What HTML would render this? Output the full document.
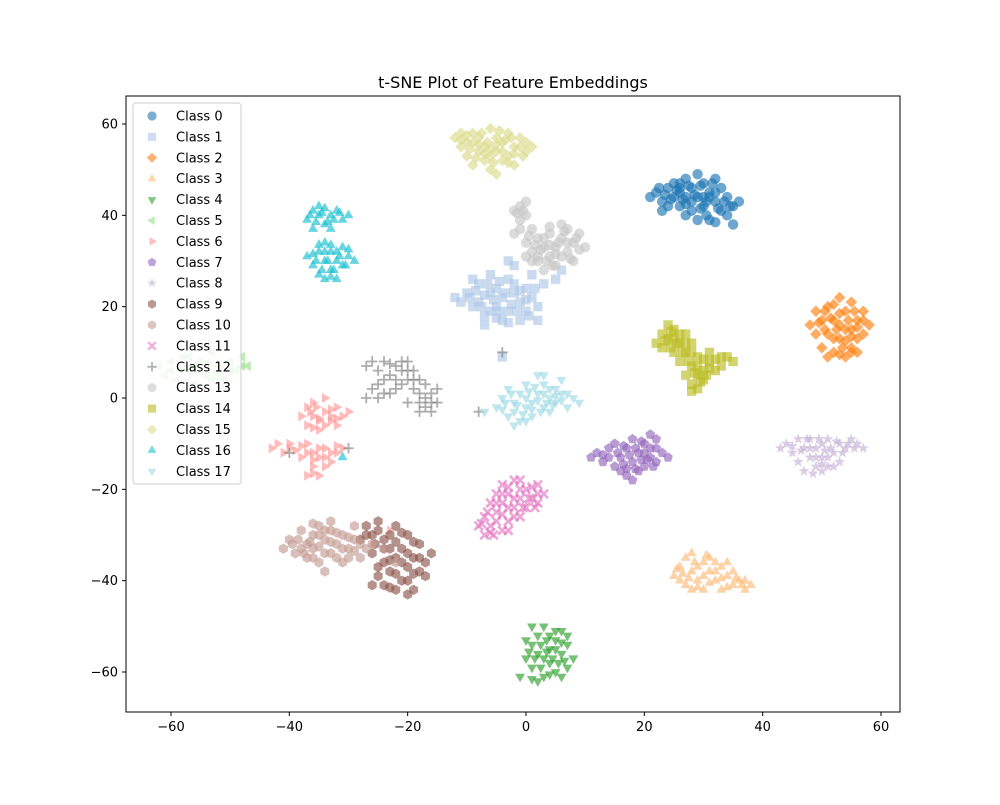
<!DOCTYPE html>
<html><head><meta charset="utf-8">
<style>
body{margin:0;background:#fff;font-family:"Liberation Sans","DejaVu Sans",sans-serif;}
svg text{font-family:"DejaVu Sans","Liberation Sans",sans-serif;}
</style></head>
<body>
<svg id="chart" width="1000" height="800" xmlns="http://www.w3.org/2000/svg">
<rect width="1000" height="800" fill="#fff"/>
<text x="513" y="88" font-size="16" text-anchor="middle">t-SNE Plot of Feature Embeddings</text>
<g id="points"></g>
<rect x="126" y="96" width="774" height="616" fill="none" stroke="#000" stroke-width="1"/>
<g id="axes"></g>
<g id="legend"></g>
</svg>
<script>
const classNames=["Class 0","Class 1","Class 2","Class 3","Class 4","Class 5","Class 6","Class 7","Class 8","Class 9","Class 10","Class 11","Class 12","Class 13","Class 14","Class 15","Class 16","Class 17"];
const xTicks=[-60,-40,-20,0,20,40,60];
const yTicks=[-60,-40,-20,0,20,40,60];
const c0=[[21,44],[22,45],[23,43],[24,46],[24,42],[25,44],[25,47],[26,45],[26,42],[27,48],[27,44],[28,46],[28,41],[29,49],[29,44],[30,47],[30,42],[31,45],[31,39],[32,48],[32,43],[33,46],[33,41],[34,44],[34,40],[35,42],[35,38],[36,43],[29,39],[27,40],[23,41],[30,44],[26,47],[32,45],[28,43],[22.5,46],[23.5,44.5],[24.5,43.5],[25.5,45.5],[26.5,43.5],[27.5,46.5],[28.5,44.5],[29.5,46.5],[30.5,43],[31.5,47],[32.5,41.5],[33.5,43],[34.5,42],[29.5,41.5],[30.5,40],[32,38.5],[26,46],[27,42.5],[31,44]];
const c1=[[-12,22],[-10,23],[-9,20],[-8,25],[-8,21],[-7,18],[-6,23],[-6,27],[-5,20],[-5,24],[-4,17],[-4,22],[-3,26],[-3,19],[-2,23],[-2,29],[-1,21],[-1,17],[0,24],[0,19],[1,22],[2,20],[3,25],[5,26],[6,28],[-4,9],[-7,16],[-9,26],[-11,21],[2,17],[-3,30],[-6,19],[1,27],[-9.5,22],[-8.5,23.5],[-7.5,20],[-7,22.5],[-6.5,25],[-5.5,21.5],[-4.5,19],[-4.5,25.5],[-3.5,23],[-2.5,20.5],[-2,25],[-1.5,19],[-1,23.5],[0,21.5],[0.5,18],[1.5,24],[-5,17.5],[-3,16.5]];
const c2=[[48,16],[49,14],[49,19],[50,17],[50,11],[51,20],[51,14],[52,10],[52,17],[53,22],[53,13],[54,19],[54,9],[54,15],[55,21],[55,11],[56,17],[56,13],[57,19],[57,14],[58,16],[51,9],[53,16],[55,15],[52,13],[56,10],[49.5,16.5],[50.5,15],[50.5,19],[51.5,17.5],[52,20.5],[52.5,15],[53,18.5],[53.5,11],[54,12.5],[54.5,17],[55,13.5],[55.5,19],[56,15.5],[57,17],[53,9.5],[55,10]];
const c3=[[25,-39],[26,-37],[27,-41],[27,-35],[28,-38],[28,-34],[29,-40],[30,-36],[30,-42],[31,-38],[31,-35],[32,-40],[33,-37],[33,-42],[34,-39],[35,-41],[35,-38],[36,-40],[37,-42],[38,-41],[29,-37],[26,-40],[32,-36],[34,-36],[25.5,-37.5],[26.5,-38.5],[27.5,-39.5],[28.5,-36],[29,-41.5],[30,-39],[31,-40.5],[32,-38],[33,-39.5],[34,-41.5],[35.5,-39.5],[36.5,-41],[37,-40],[28,-42],[30.5,-34.5]];
const c4=[[-1,-61],[0,-57],[1,-54],[1,-59],[2,-52],[2,-56],[3,-61],[3,-50],[4,-55],[4,-58],[5,-53],[5,-60],[6,-51],[6,-56],[7,-54],[7,-59],[8,-57],[0,-53],[2,-62],[4,-52],[6,-61],[3,-57],[1,-50],[0.5,-55.5],[1.5,-57],[2.5,-54],[2.5,-59],[3.5,-53],[3.5,-55.5],[4.5,-57],[5,-55],[5.5,-58],[6,-53.5],[6.5,-57.5],[7,-52],[4,-60.5],[1,-61.5],[5,-51]];
const c5=[[-62,7],[-61,5],[-60,8],[-59,4],[-58,9],[-57,6],[-56,3],[-55,8],[-54,5],[-53,10],[-52,7],[-51,4],[-50,8],[-49,6],[-48,9],[-47,7],[-57,9],[-53,4],[-60,6],[-58,6.5],[-56,7],[-54,7.5],[-52,5.5],[-50,6],[-48,7],[-55,5.5]];
const c6=[[-38,-4],[-37,-2],[-37,-6],[-36,-1],[-36,-4],[-35,-7],[-34,-3],[-34,0],[-33,-5],[-32,-2],[-32,-6],[-31,-4],[-30,-3],[-35,-5],[-43,-11],[-42,-10],[-41,-12],[-40,-11],[-38,-13],[-37,-10],[-36,-15],[-36,-12],[-35,-17],[-34,-11],[-33,-14],[-32,-12],[-31,-11],[-35,-13],[-40,-10],[-37,-17],[-23,-29],[-36.5,-3],[-35.5,-2],[-35,-4.5],[-34,-6],[-33,-2.5],[-33,-4],[-32,-4.5],[-36,-6.5],[-39,-11.5],[-38,-10.5],[-37,-12],[-36,-13.5],[-35,-11],[-34,-13],[-34,-15],[-33,-12],[-36,-16.5],[-32,-10.5]];
const c7=[[11,-13],[12,-12],[13,-14],[14,-11],[15,-15],[15,-10],[16,-13],[17,-17],[17,-11],[18,-14],[18,-9],[19,-16],[19,-12],[20,-10],[20,-15],[21,-13],[21,-8],[22,-11],[22,-14],[23,-12],[24,-13],[16,-16],[18,-18],[14,-13],[20,-12],[15.5,-12],[16.5,-10.5],[16.5,-14.5],[17.5,-12.5],[18.5,-11],[18.5,-15.5],[19.5,-13.5],[19.5,-9.5],[20.5,-13.5],[21,-11],[21.5,-15],[22,-9],[13,-12.5],[17,-15.5]];
const c8=[[43,-11],[44,-10],[45,-12],[46,-9],[46,-14],[47,-11],[48,-13],[48,-9],[49,-15],[49,-11],[50,-10],[50,-16],[51,-13],[51,-9],[52,-12],[52,-15],[53,-10],[54,-11],[55,-9],[56,-10],[57,-11],[50,-13],[47,-16],[53,-14],[45,-10.5],[46.5,-11.5],[47.5,-9],[48,-11],[49,-13],[49.5,-9],[50.5,-11.5],[51.5,-11],[51,-15],[52.5,-9.5],[53.5,-12],[54.5,-10],[55.5,-11],[48.5,-16.5],[50,-14.5]];
const c9=[[-28,-31],[-27,-28],[-26,-34],[-26,-30],[-25,-37],[-25,-27],[-24,-33],[-24,-41],[-23,-30],[-23,-38],[-22,-35],[-22,-28],[-21,-40],[-21,-33],[-20,-37],[-20,-30],[-19,-42],[-19,-35],[-18,-38],[-18,-32],[-17,-36],[-16,-34],[-22,-42],[-26,-41],[-24,-36],[-20,-43],[-27,-30],[-25.5,-32],[-25,-29],[-24,-31],[-23,-33],[-23,-35.5],[-22,-31.5],[-22,-38.5],[-21,-36],[-21,-29.5],[-20,-34],[-20,-40],[-19,-38.5],[-19,-31.5],[-18,-35],[-17,-39],[-25,-39],[-23,-41.5]];
const c10=[[-41,-33],[-40,-31],[-39,-34],[-38,-29],[-38,-33],[-37,-35],[-36,-30],[-36,-33],[-35,-28],[-35,-36],[-34,-31],[-34,-38],[-33,-29],[-33,-34],[-32,-32],[-31,-30],[-31,-36],[-30,-33],[-29,-31],[-28,-35],[-27,-33],[-26,-32],[-37,-32],[-33,-27],[-29,-28],[-24,-33],[-22,-36],[-39.5,-32],[-38.5,-31],[-37.5,-34],[-36.5,-31.5],[-36,-35],[-35,-30],[-35,-32.5],[-34,-29],[-34,-34],[-33,-31.5],[-32,-29.5],[-32,-35],[-31,-33],[-30,-30.5],[-30,-35],[-29,-33.5],[-28,-32],[-36,-27.5]];
const c11=[[-8,-28],[-7,-26],[-7,-30],[-6,-23],[-6,-28],[-5,-21],[-5,-25],[-4,-19],[-4,-23],[-3,-27],[-3,-21],[-2,-18],[-2,-24],[-1,-22],[-1,-26],[0,-20],[0,-24],[1,-22],[2,-19],[2,-23],[3,-21],[-4,-29],[-1,-18],[-7.5,-27.5],[-6.5,-25],[-6,-29.5],[-5,-27],[-5,-23],[-4,-25.5],[-4,-21],[-3,-24],[-3,-19.5],[-2,-22],[-2,-26],[-1,-20],[-0.5,-24],[0.5,-22],[1,-19.5],[1.5,-24],[2,-21],[-5.5,-30],[-3,-29]];
const c12=[[-27,7],[-26,8],[-25,3],[-25,6],[-24,1],[-24,8],[-23,5],[-22,2],[-22,7],[-21,6],[-20,4],[-20,8],[-19,2],[-19,6],[-18,-1],[-18,4],[-17,3],[-17,-2],[-16,-3],[-16,1],[-15,2],[-27,0],[-25,0],[-15,-1],[-20,-1],[-4,10],[-8,-3],[-30,-11],[-40,-12],[-18,-3],[-26,2],[-24,4],[-23,7.5],[-22,4],[-21,3],[-21,8],[-20,6],[-19,4],[-18,1],[-17,0],[-16,-1],[-23,1]];
const c13=[[-2,41],[-1,42],[-1,39],[0,43],[0,40],[-2,36],[0,34],[1,32],[1,37],[2,30],[2,35],[3,33],[3,28],[4,36],[4,31],[5,33],[5,29],[6,35],[6,38],[7,32],[7,37],[8,34],[8,30],[9,36],[10,33],[2,31],[0,31],[-1.5,40.5],[-0.5,41],[-1,37],[0.5,35.5],[1,30],[1.5,33.5],[2.5,32.5],[3,35],[3.5,30],[4,33.5],[4.5,29],[5,31.5],[5.5,34],[6,31],[6.5,36.5],[7,34],[7.5,30.5],[8.5,35],[9,32.5],[4,37.5]];
const c14=[[22,12],[23,14],[23,11],[24,16],[24,13],[25,10],[25,15],[26,12],[26,8],[27,14],[27,5],[27,10],[28,7],[28,3],[28,12],[29,5],[29,9],[30,6],[30,4],[31,8],[31,10],[32,6],[33,7],[34,9],[35,8],[25,13],[29,2],[23.5,12.5],[24.5,11],[24.5,14.5],[25.5,12],[26,14],[26.5,10],[27,12],[27.5,8],[28,10],[28.5,5.5],[29,7],[29.5,3.5],[30,8.5],[30.5,5],[31,6.5],[32,8.5],[33,9],[28,1.5]];
const c15=[[-12,57],[-11,55],[-11,58],[-10,53],[-10,56],[-9,51],[-9,58],[-8,54],[-8,57],[-7,52],[-7,55],[-6,59],[-6,50],[-5,54],[-5,57],[-4,52],[-4,56],[-3,58],[-3,53],[-2,55],[-2,51],[-1,57],[0,54],[0,56],[1,55],[-6,53],[-5,49],[-11,56.5],[-10,57.5],[-9.5,54.5],[-9,56],[-8.5,52.5],[-8,55.5],[-7.5,58],[-7,53.5],[-6.5,56],[-6,54.5],[-5.5,51.5],[-5,55.5],[-4.5,58.5],[-4,54],[-3.5,56.5],[-3,51.5],[-2.5,57],[-2,53.5],[-1,55],[-0.5,53]];
const c16=[[-37,39],[-36,41],[-36,37],[-35,40],[-35,42],[-34,38],[-33,40],[-33,37],[-32,41],[-31,39],[-30,40],[-37,31],[-36,29],[-35,32],[-35,27],[-34,30],[-34,34],[-33,28],[-33,32],[-32,30],[-32,26],[-31,33],[-31,29],[-30,31],[-29,30],[-34,26],[-31,-13],[-36.5,40],[-35.5,38.5],[-34.5,40.5],[-34,41.5],[-33.5,38.5],[-32.5,39],[-31.5,40.5],[-36,31.5],[-35.5,30],[-35,33.5],[-34.5,28],[-34,32],[-33.5,30],[-33,33.5],[-32.5,28],[-32,32],[-31.5,31],[-30.5,29],[-30,32.5],[-33,26.5]];
const c17=[[-5,-2],[-4,0],[-3,-4],[-3,2],[-2,-1],[-1,-5],[-1,1],[0,-2],[0,3],[1,-1],[1,-4],[2,1],[2,5],[3,-2],[3,3],[4,0],[4,-3],[5,2],[5,-1],[6,1],[7,-2],[8,0],[9,-1],[3,5],[-2,-6],[-7,-3],[6,4],[-4,-2.5],[-3.5,-1],[-2.5,1],[-2,-3],[-1.5,-1.5],[-0.5,-3.5],[0,0],[0.5,1.5],[1,-2.5],[1.5,2.5],[2,-0.5],[2.5,-3],[3,1],[3.5,-1],[4,2],[4.5,-1.5],[5,0.5],[6,-0.5],[7,1],[0,-5]];
const series=[c0,c1,c2,c3,c4,c5,c6,c7,c8,c9,c10,c11,c12,c13,c14,c15,c16,c17];
const colors=["#1f77b4","#aec7e8","#ff7f0e","#ffbb78","#2ca02c","#98df8a","#ff9896","#9467bd","#c5b0d5","#8c564b","#c49c94","#e377c2","#7f7f7f","#c7c7c7","#bcbd22","#dbdb8d","#17becf","#9edae5"];
const markers=["o","s","D","^","v","<",">","p","*","h","h","X","+","o","s","D","^","v"];

const NS="http://www.w3.org/2000/svg";
const X=v=>526+v*(355/60);
const Y=v=>398-v*(274/60);

function shape(m,cx,cy,r,color,alpha){
  let el;
  if(m==="o"){el=document.createElementNS(NS,"circle");el.setAttribute("cx",cx);el.setAttribute("cy",cy);el.setAttribute("r",r);}
  else if(m==="+"){el=document.createElementNS(NS,"path");el.setAttribute("d",`M${cx-r} ${cy}H${cx+r}M${cx} ${cy-r}V${cy+r}`);el.setAttribute("stroke",color);el.setAttribute("stroke-width","1.8");el.setAttribute("fill","none");el.setAttribute("opacity",alpha);return el;}
  else{
    let pts=[];
    const poly=(n,rot,rr)=>{for(let i=0;i<n;i++){const a=rot+i*2*Math.PI/n;pts.push([cx+rr*Math.cos(a),cy+rr*Math.sin(a)]);}};
    if(m==="s"){const s=r*0.9;pts=[[cx-s,cy-s],[cx+s,cy-s],[cx+s,cy+s],[cx-s,cy+s]];}
    else if(m==="D"){pts=[[cx,cy-r*1.1],[cx+r*1.1,cy],[cx,cy+r*1.1],[cx-r*1.1,cy]];}
    else if(m==="^")poly(3,-Math.PI/2,r*1.1);
    else if(m==="v")poly(3,Math.PI/2,r*1.1);
    else if(m==="<")poly(3,Math.PI,r*1.1);
    else if(m===">")poly(3,0,r*1.1);
    else if(m==="p")poly(5,-Math.PI/2,r);
    else if(m==="h")poly(6,-Math.PI/2,r);
    else if(m==="*"){for(let i=0;i<10;i++){const a=-Math.PI/2+i*Math.PI/5;const rr=i%2?r*0.45:r*1.1;pts.push([cx+rr*Math.cos(a),cy+rr*Math.sin(a)]);}}
    else if(m==="X"){const a=r*0.35,b=r;pts=[[cx-b,cy-b+a],[cx-b+a,cy-b],[cx,cy-a],[cx+b-a,cy-b],[cx+b,cy-b+a],[cx+a,cy],[cx+b,cy+b-a],[cx+b-a,cy+b],[cx,cy+a],[cx-b+a,cy+b],[cx-b,cy+b-a],[cx-a,cy]];}
    el=document.createElementNS(NS,"polygon");
    el.setAttribute("points",pts.map(p=>p[0].toFixed(1)+","+p[1].toFixed(1)).join(" "));
  }
  el.setAttribute("fill",color);el.setAttribute("opacity",alpha);
  return el;
}

const gp=document.getElementById("points");
series.forEach((pts,ci)=>{
  const g=document.createElementNS(NS,"g");
  
  
  pts.forEach(p=>{
    const el=shape(markers[ci],X(p[0]),Y(p[1]),5.2,colors[ci],0.65);
    
    
    g.appendChild(el);
  });
  gp.appendChild(g);
});

const ga=document.getElementById("axes");
xTicks.forEach(t=>{
  const l=document.createElementNS(NS,"line");
  l.setAttribute("x1",X(t));l.setAttribute("x2",X(t));l.setAttribute("y1",712);l.setAttribute("y2",716);l.setAttribute("stroke","#000");
  
  
  ga.appendChild(l);
  const tx=document.createElementNS(NS,"text");
  tx.setAttribute("x",X(t));tx.setAttribute("y",731);tx.setAttribute("font-size","13");tx.setAttribute("text-anchor","middle");
  tx.textContent=t<0?"\u2212"+(-t):String(t);
  
  
  ga.appendChild(tx);
});
yTicks.forEach(t=>{
  const l=document.createElementNS(NS,"line");
  l.setAttribute("x1",122);l.setAttribute("x2",126);l.setAttribute("y1",Y(t));l.setAttribute("y2",Y(t));l.setAttribute("stroke","#000");
  
  
  ga.appendChild(l);
  const tx=document.createElementNS(NS,"text");
  tx.setAttribute("x",118);tx.setAttribute("y",Y(t)+4.5);tx.setAttribute("font-size","13");tx.setAttribute("text-anchor","end");
  tx.textContent=t<0?"\u2212"+(-t):String(t);
  
  
  ga.appendChild(tx);
});

const gl=document.getElementById("legend");
const box=document.createElementNS(NS,"rect");
box.setAttribute("x",133);box.setAttribute("y",103);box.setAttribute("width",108);box.setAttribute("height",381);box.setAttribute("rx",3);
box.setAttribute("fill","#fff");box.setAttribute("fill-opacity","0.8");box.setAttribute("stroke","#ccc");


gl.appendChild(box);
classNames.forEach((n,i)=>{
  const y=116+i*20.9;
  const g=document.createElementNS(NS,"g");
  
  
  g.appendChild(shape(markers[i],152,y,4.6,colors[i],0.6));
  const tx=document.createElementNS(NS,"text");
  tx.setAttribute("x",176);tx.setAttribute("y",y+4.5);tx.setAttribute("font-size","13");
  tx.textContent=n;
  g.appendChild(tx);
  gl.appendChild(g);
});
</script>
</body></html>
